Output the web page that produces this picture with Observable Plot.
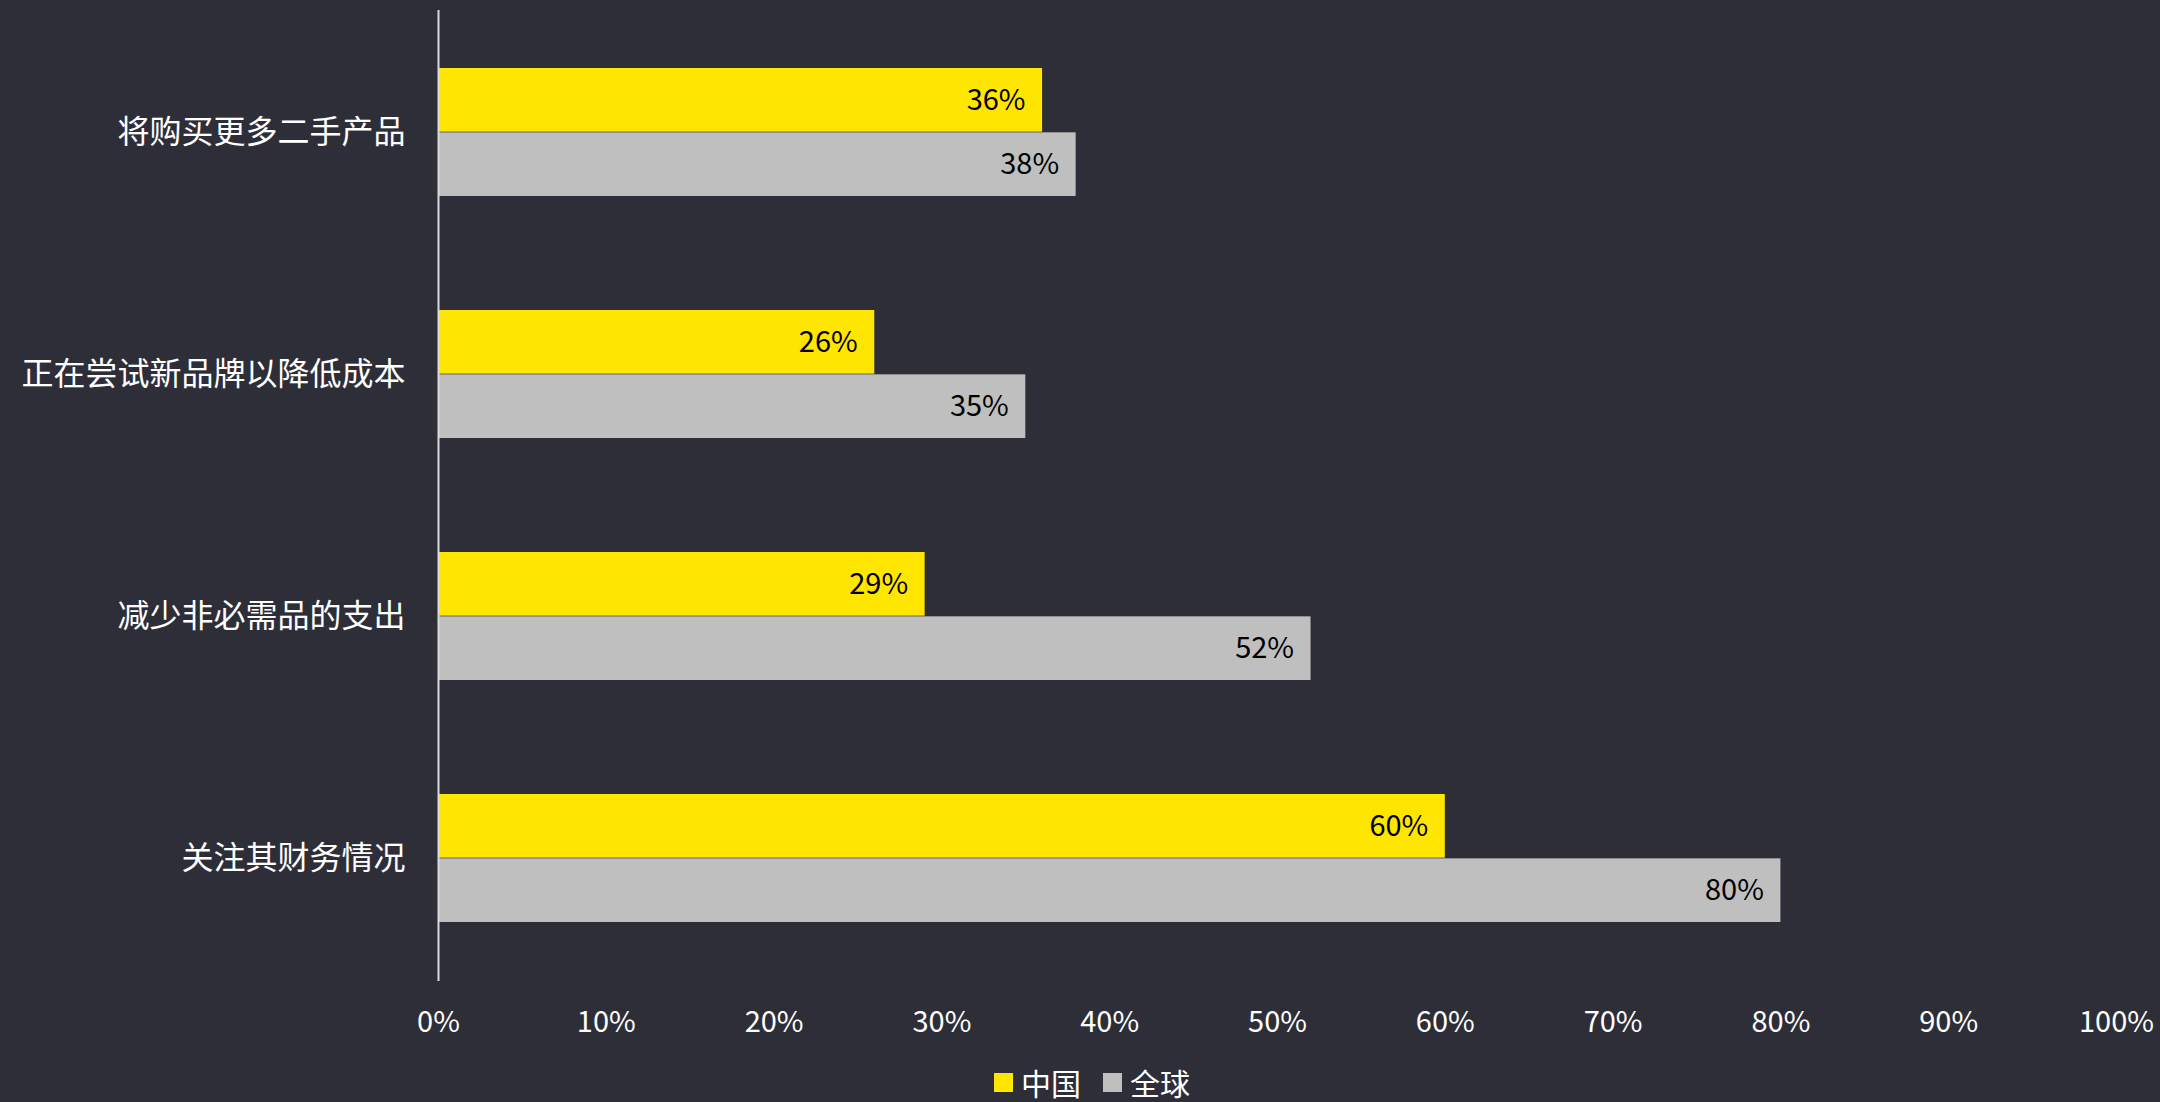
<!DOCTYPE html>
<html>
<head>
<meta charset="utf-8">
<script src="https://cdn.jsdelivr.net/npm/d3@7"></script>
<script src="https://cdn.jsdelivr.net/npm/@observablehq/plot@0.6"></script>
<style>
  html, body { margin: 0; padding: 0; background: #2e2e38; width: 2160px; height: 1102px; overflow: hidden; }
  #chart { position: absolute; left: 0; top: 0; }
  #legend { position: absolute; left: 994px; top: 1065px; display: flex; align-items: center; font-family: "Noto Sans CJK SC", sans-serif; font-size: 30px; color: #ffffff; line-height: 34px; }
  .sw { width: 19px; height: 19px; display: inline-block; margin-right: 8px; }
  .item { display: flex; align-items: center; margin-right: 22px; }
</style>
</head>
<body>
<div id="chart"></div>
<div id="legend"></div>
<script>
const categories = ["将购买更多二手产品", "正在尝试新品牌以降低成本", "减少非必需品的支出", "关注其财务情况"];
const seriesNames = ["中国", "全球"];
const chinaValues = [36, 26, 29, 60];
const globalValues = [38, 35, 52, 80];
const seriesColors = ["#ffe600", "#bfbfbf"];
const xTicks = [0, 10, 20, 30, 40, 50, 60, 70, 80, 90, 100];

const rows = [];
categories.forEach((c, i) => {
  rows.push({category: c, series: seriesNames[0], value: chinaValues[i]});
  rows.push({category: c, series: seriesNames[1], value: globalValues[i]});
});
const china = rows.filter(d => d.series === seriesNames[0]);
const globalRows = rows.filter(d => d.series === seriesNames[1]);

const W = 2160, H = 1052, mTop = 10, mBottom = 71, mLeft = 438, mRight = 44;
const pad = 0.47;
const step = (H - mTop - mBottom) / categories.length;
const half = step * (1 - pad) / 2;

const font = "'Noto Sans CJK SC', 'Noto Sans', sans-serif";

const chart = Plot.plot({
  width: W,
  height: H,
  marginTop: mTop,
  marginBottom: mBottom,
  marginLeft: mLeft,
  marginRight: mRight,
  style: {background: "#2e2e38", color: "#ffffff", fontFamily: font},
  x: {domain: [0, 100]},
  y: {domain: categories, paddingInner: pad, paddingOuter: pad / 2},
  marks: [
    Plot.barX(china, {x: "value", y: "category", fill: seriesColors[0], insetBottom: half}),
    Plot.barX(globalRows, {x: "value", y: "category", fill: seriesColors[1], insetTop: half}),
    Plot.text(china, {x: "value", y: "category", text: d => d.value + "%", textAnchor: "end", dx: -17, dy: -half / 2, fill: "#000000", fontSize: 29}),
    Plot.text(globalRows, {x: "value", y: "category", text: d => d.value + "%", textAnchor: "end", dx: -17, dy: half / 2, fill: "#000000", fontSize: 29}),
    Plot.ruleX([0], {stroke: "#d9d9d9", strokeWidth: 2}),
    Plot.axisX({ticks: xTicks, tickFormat: d => d + "%", tickSize: 0, tickPadding: 30, fontSize: 29, fill: "#ffffff", label: null}),
    Plot.axisY({tickSize: 0, tickPadding: 33, fontSize: 32, fill: "#ffffff", label: null})
  ]
});
document.getElementById("chart").appendChild(chart);

const legend = document.getElementById("legend");
seriesNames.forEach((s, i) => {
  const item = document.createElement("span");
  item.className = "item";
  const sw = document.createElement("span");
  sw.className = "sw";
  sw.style.background = seriesColors[i];
  item.appendChild(sw);
  item.appendChild(document.createTextNode(s));
  legend.appendChild(item);
});
</script>
</body>
</html>
